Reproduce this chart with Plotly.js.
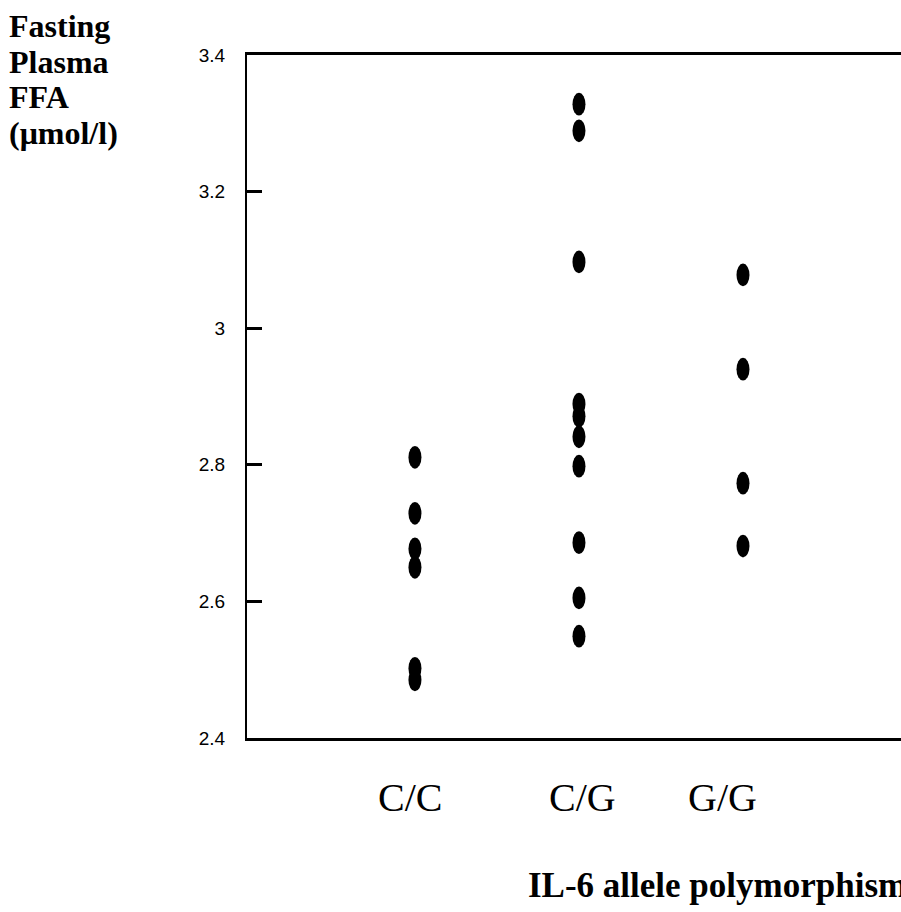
<!DOCTYPE html>
<html>
<head>
<meta charset="utf-8">
<script src="https://cdn.plot.ly/plotly-3.0.1.min.js"></script>
<style>
  html, body { margin: 0; padding: 0; background: #ffffff; overflow: hidden; width: 901px; height: 912px; }
  #chart { width: 1000px; height: 912px; }
</style>
</head>
<body>
<div id="chart"></div>
<script>
// ---- data ----
const categories = ["C/C", "C/G", "G/G"];
const ccValues = [2.811, 2.729, 2.677, 2.650, 2.502, 2.485];
const cgValues = [3.328, 3.289, 3.097, 2.889, 2.871, 2.841, 2.798, 2.686, 2.605, 2.549];
const ggValues = [3.078, 2.940, 2.773, 2.681];
const yTickValues = [2.4, 2.6, 2.8, 3.0, 3.2, 3.4];
const yTickLabels = ["2.4", "2.6", "2.8", "3", "3.2", "3.4"];
const yTitleLines = ["Fasting", "Plasma", "FFA", "(\u03bcmol/l)"];
const xTitle = "IL-6 allele polymorphism";

const groups = [ccValues, cgValues, ggValues];
const traces = groups.map((vals, i) => ({
  type: "scatter",
  mode: "markers",
  x: vals.map(() => categories[i]),
  y: vals,
  marker: { color: "#000000", size: 13, symbol: "circle", line: { width: 0 } },
  hoverinfo: "x+y",
  showlegend: false
}));

const serif = "'Liberation Serif', 'Times New Roman', serif";
const labelShift = [-5, 4, -20];

const annotations = [];
categories.forEach((c, i) => {
  annotations.push({
    text: c, xref: "x", yref: "paper", x: c, y: -0.0864,
    xshift: labelShift[i], xanchor: "center", yanchor: "middle",
    showarrow: false, font: { family: serif, size: 40, color: "#000" }
  });
});
const yTitleCenters = [26, 62, 97, 133];
yTitleLines.forEach((t, i) => {
  annotations.push({
    text: "<b>" + t + "</b>", xref: "paper", yref: "paper",
    x: (7 - 247) / 753, y: (738 - yTitleCenters[i]) / 683,
    xanchor: "left", yanchor: "middle", showarrow: false,
    font: { family: serif, size: 32, color: "#000" }
  });
});
annotations.push({
  text: "<b>" + xTitle + "</b>", xref: "paper", yref: "paper",
  x: (526 - 247) / 753, y: (738 - 885) / 683,
  xanchor: "left", yanchor: "middle", showarrow: false,
  font: { family: serif, size: 35, color: "#000" }
});

const layout = {
  width: 1000, height: 912,
  margin: { l: 247, r: 0, t: 55, b: 174, pad: 0 },
  paper_bgcolor: "#ffffff", plot_bgcolor: "#ffffff",
  showlegend: false,
  xaxis: {
    type: "category", categoryorder: "array", categoryarray: categories,
    range: [-1.024, 3.567],
    showline: true, linecolor: "#000", linewidth: 3, mirror: true,
    showgrid: false, zeroline: false, ticks: "", showticklabels: false
  },
  yaxis: {
    range: [2.4, 3.4],
    tickmode: "array", tickvals: yTickValues, ticktext: yTickLabels,
    ticks: "inside", ticklen: 15, tickwidth: 3, tickcolor: "#000",
    showline: true, linecolor: "#000", linewidth: 2, mirror: false,
    showgrid: false, zeroline: false,
    ticklabelstandoff: 16,
    tickfont: { family: "'Liberation Sans', Arial, sans-serif", size: 19, color: "#000" }
  },
  annotations: annotations
};

Plotly.newPlot("chart", traces, layout, { staticPlot: true, displayModeBar: false }).then(() => {
  document.querySelectorAll(".scatterlayer path.point").forEach(p => {
    const t = p.getAttribute("transform") || "";
    p.setAttribute("transform", t + " scale(1,1.75)");
  });
});
</script>
</body>
</html>
